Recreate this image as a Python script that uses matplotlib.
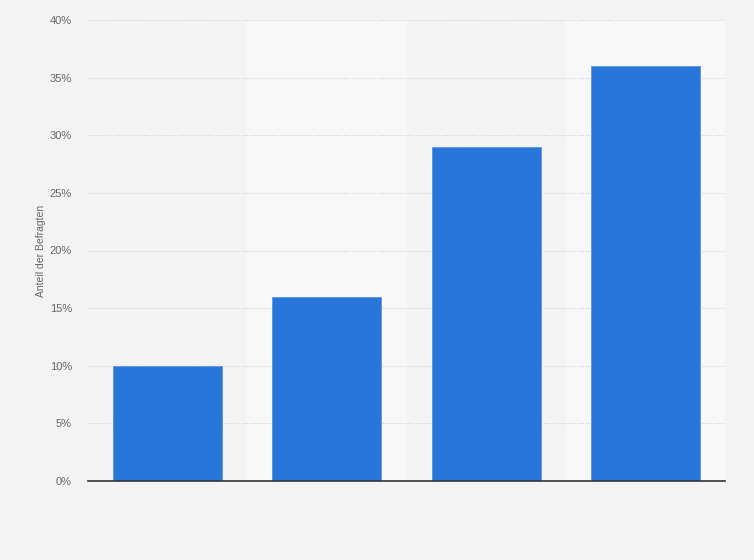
import matplotlib
matplotlib.use("Agg")
import matplotlib.pyplot as plt
from matplotlib.ticker import FuncFormatter, MultipleLocator

plt.rcParams["font.family"] = ["Liberation Sans", "DejaVu Sans"]

categories = ["A", "B", "C", "D"]
values = [10, 16, 29, 36]
ylabel = "Anteil der Befragten"

bg = "#f3f3f3"
band = "#f8f8f8"
bar_color = "#2876da"

fig = plt.figure(figsize=(7.54, 5.6), dpi=100, facecolor=bg)
ax = fig.add_axes([88/754, (560-481)/560, (725-88)/754, (481-20)/560])
ax.set_facecolor(bg)

x = list(range(len(categories)))
for i in x:
    if i % 2 == 1:
        ax.axvspan(i - 0.5, i + 0.5, color=band, zorder=0, lw=0)

ax.bar(x, values, width=0.685, color=bar_color, edgecolor="#5b95e3", linewidth=0.6, zorder=3)

ax.set_xlim(-0.5, len(categories) - 0.5)
ax.set_ylim(0, 40)
ax.yaxis.set_major_locator(MultipleLocator(5))
ax.yaxis.set_major_formatter(FuncFormatter(lambda v, p: f"{int(v)}%"))
ax.grid(axis="y", color="#cfcfcf", linestyle=(0, (1, 1.5)), linewidth=0.8, zorder=1)
ax.set_xticks([])
for s in ["top", "right", "left"]:
    ax.spines[s].set_visible(False)
ax.spines["bottom"].set_color("#333333")
ax.spines["bottom"].set_linewidth(1.2)
ax.spines["bottom"].set_zorder(4)
ax.tick_params(axis="y", length=0, pad=11.5, labelsize=8, labelcolor="#666666")
ax.set_ylabel(ylabel, fontsize=7.5, color="#666666", labelpad=2.5)

fig.savefig("out.png", dpi=100, facecolor=bg)
